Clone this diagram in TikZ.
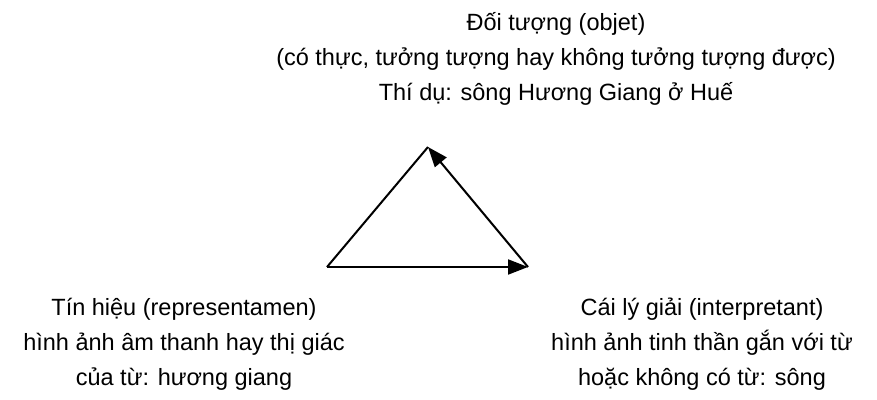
\documentclass[tikz,border=0pt]{standalone}
\usepackage{fontspec}
\setmainfont{Liberation Sans}
\usetikzlibrary{arrows.meta}

\begin{document}
\begin{tikzpicture}[x=1pt,y=1pt,>={Triangle[length=20pt,width=15pt]},line width=2pt,
        txt/.style={align=center,font=\fontsize{23.5}{35}\selectfont}]
        \useasboundingbox (0,0) rectangle (877,399);
        \node (object) [txt] at (556,340) {Đối tượng (objet)\\(có thực, tưởng tượng hay không tưởng tượng được)\\Thí dụ: sông Hương Giang ở Huế};
        \node (sign) [txt] at (184,55) {Tín hiệu (representamen)\\hình ảnh âm thanh hay thị giác\\của từ: hương giang};
        \node (interp) [txt] at (702,55) {Cái lý giải (interpretant)\\hình ảnh tinh thần gắn với từ\\hoặc không có từ: sông};
        \coordinate (top) at (428,252);
        \coordinate (left) at (327,132);
        \coordinate (right) at (528,132);
        \draw (left) -- (top);
        \draw[->] (right) -- (top);
        \draw[->] (left) -- (right);
    \end{tikzpicture}
\end{document}
